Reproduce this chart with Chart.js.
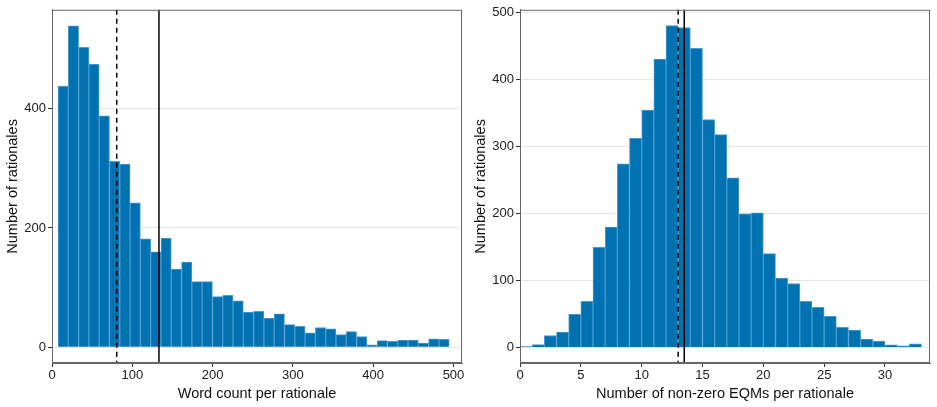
<!DOCTYPE html>
<html>
<head>
<meta charset="utf-8">
<script src="https://cdn.jsdelivr.net/npm/chart.js@4.4.1/dist/chart.umd.min.js"></script>
<style>
  html, body { margin: 0; padding: 0; background: #fff; }
  #wrap { position: relative; width: 937px; height: 407px; }
  .panel { position: absolute; top: 0; height: 407px; }
</style>
</head>
<body>
<div id="wrap">
  <div class="panel" style="left:0;width:468px"><canvas id="wordChart"></canvas></div>
  <div class="panel" style="left:468px;width:469px"><canvas id="eqmChart"></canvas></div>
</div>
<script>
// Word count histogram (bin start, width in words)
const wordBinStart = 7.5;
const wordBinWidth = 12.82;
const wordCounts = [438, 539, 503, 475, 388, 312, 307, 242, 182, 160, 183, 131, 143, 110, 110, 85, 87, 78,
    59, 60, 49, 56, 38, 35, 24, 33, 31, 21, 26, 18, 4, 11, 10, 12, 12, 7, 14, 13];
const wordMedian = 80.6;
const wordMean = 133.2;
const wordXTicks = [0, 100, 200, 300, 400, 500];
const wordYTicks = [0, 200, 400];

// Non-zero EQM histogram (bins of width 1 starting at 0)
const eqmBinStart = 0;
const eqmBinWidth = 1;
const eqmCounts = [1.5, 4.5, 18, 23, 49.5, 69, 149.5, 179.5, 274, 312, 354, 430, 480, 477, 446, 340, 317.5,
    253, 199.5, 201, 140, 103.5, 95.5, 69, 60, 46.5, 30, 26, 12.5, 9.5, 4, 2.5, 5.5];
const eqmMedian = 13.0;
const eqmMean = 13.5;
const eqmXTicks = [0, 5, 10, 15, 20, 25, 30];
const eqmYTicks = [0, 100, 200, 300, 400, 500];

const FONT = '"Liberation Sans", Arial, sans-serif';

// Draws the panel border and the median (dashed) / mean (solid) lines
const refLinesPlugin = {
    id: 'refLines',
    afterDatasetsDraw: (chart, args, opts) => {
        const { ctx, chartArea: a, scales } = chart;
        ctx.save();
        ctx.strokeStyle = '#000';
        ctx.lineWidth = 1.5;
        [[opts.median, [5, 4]], [opts.mean, []]].forEach(([v, dash]) => {
            const x = scales.x.getPixelForValue(v);
            ctx.setLineDash(dash);
            ctx.beginPath();
            ctx.moveTo(x, a.top);
            ctx.lineTo(x, a.bottom);
            ctx.stroke();
        });
        ctx.setLineDash([]);
        ctx.strokeStyle = '#666';
        ctx.lineWidth = 1;
        ctx.strokeRect(a.left + 0.5, a.top + 0.5, a.right - a.left - 1, a.bottom - a.top - 1);
        ctx.restore();
    }
};

function makeHist(id, start, width, counts, median, mean, xTicks, yTicks, xRange, yRange, xTitle, padRight) {
    const data = counts.map((c, i) => ({ x: start + (i + 0.5) * width, y: c }));
    return new Chart(document.getElementById(id), {
        type: 'bar',
        data: {
            datasets: [{
                data: data,
                backgroundColor: '#0072B2',
                borderColor: '#4a9bd0',
                borderWidth: 1,
                barPercentage: 1,
                categoryPercentage: 1,
                grouped: false
            }]
        },
        options: {
            responsive: true,
            maintainAspectRatio: false,
            animation: false,
            layout: { padding: { top: 7, right: padRight, left: 0, bottom: 0 } },
            scales: {
                x: {
                    type: 'linear',
                    offset: false,
                    min: xRange[0],
                    max: xRange[1],
                    afterBuildTicks: s => { s.ticks = xTicks.map(v => ({ value: v })); },
                    afterFit: s => { s.height = 44; },
                    grid: { offset: false, drawOnChartArea: false, tickLength: 4, tickColor: '#333' },
                    border: { color: '#666' },
                    ticks: { color: '#222', font: { family: FONT, size: 13 }, padding: 1, maxRotation: 0 },
                    title: { display: true, text: xTitle, color: '#111', font: { family: FONT, size: 14.5 }, padding: { top: 1 } }
                },
                y: {
                    min: yRange[0],
                    max: yRange[1],
                    afterBuildTicks: s => { s.ticks = yTicks.map(v => ({ value: v })); },
                    afterFit: s => { s.width = 52; },
                    grid: { color: '#e6e6e6', tickLength: 4, tickColor: '#333' },
                    border: { color: '#666' },
                    ticks: { color: '#222', font: { family: FONT, size: 13 }, padding: 2 },
                    title: { display: true, text: 'Number of rationales', color: '#111', font: { family: FONT, size: 14.5 }, padding: { bottom: 2 } }
                }
            },
            plugins: {
                legend: { display: false },
                tooltip: { enabled: false },
                refLines: { median: median, mean: mean }
            }
        },
        plugins: [refLinesPlugin]
    });
}

makeHist('wordChart', wordBinStart, wordBinWidth, wordCounts, wordMedian, wordMean,
    wordXTicks, wordYTicks, [0, 510.6], [-26.5, 566], 'Word count per rationale', 6);
makeHist('eqmChart', eqmBinStart, eqmBinWidth, eqmCounts, eqmMedian, eqmMean,
    eqmXTicks, eqmYTicks, [0, 33.7], [-23, 503.5], 'Number of non-zero EQMs per rationale', 7);
</script>
</body>
</html>
